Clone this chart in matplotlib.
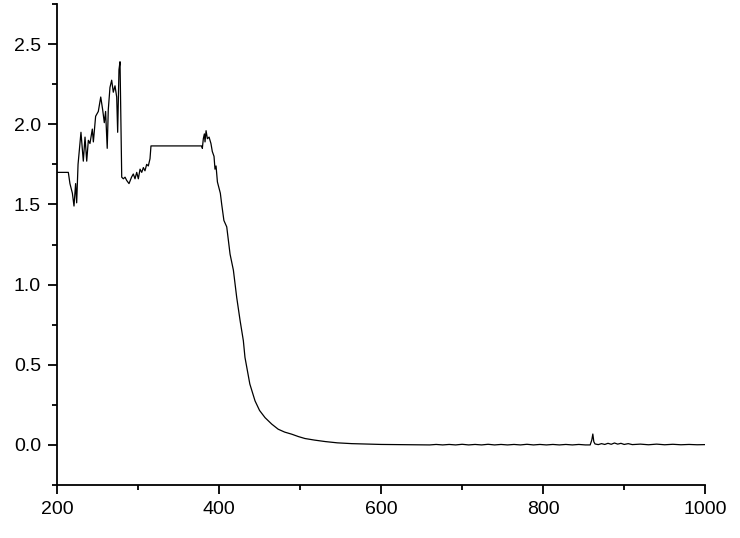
import matplotlib
matplotlib.use("Agg")
import matplotlib.pyplot as plt
from matplotlib.ticker import MultipleLocator, FormatStrFormatter

# wavelength (nm) and absorbance
wavelength = [200, 214, 216, 219, 221, 223, 224.3, 226, 229.6, 232.5, 234.6, 236.7, 238.7, 240.7,
	243.6, 244.9, 247.7, 251, 254, 256.4, 258.4, 260, 262, 263.3, 265.4, 267.5, 269.5, 271.6,
	273.7, 274.9, 276.5, 277.8, 279, 279.9, 281.9, 284, 286, 288.9, 292, 294.2, 296.3, 298.4,
	300.4, 302.5, 304.6, 306.6, 308.6, 310.7, 312.7, 314.8, 316, 378.6, 379.4, 380.6, 381.9,
	382.7, 384, 385.6, 387.7, 390, 391.7, 393.8, 395, 396.3, 398, 400, 401.6, 403.3, 406, 409.5,
	413.6, 417.7, 421.8, 426, 430, 432, 438, 444.4, 450, 456.8, 465, 473, 481, 489.7, 498, 506,
	518, 531, 546, 564, 580, 593, 600, 620, 640, 660,
	668, 676, 684, 692, 700, 708, 716, 724, 732, 740, 748, 756, 764, 772, 780, 788, 796, 804,
	812, 820, 828, 836, 844, 852, 858, 860, 861.3, 862.5, 864, 868, 872, 876, 880, 884, 888,
	892, 896, 900, 905, 910, 920, 930, 940, 950, 960, 970, 980, 990, 1000]
absorbance = [1.70, 1.70, 1.63, 1.57, 1.49, 1.63, 1.51, 1.75, 1.95, 1.77, 1.92, 1.77, 1.90, 1.88,
	1.97, 1.89, 2.05, 2.08, 2.17, 2.09, 2.01, 2.08, 1.85, 2.09, 2.23, 2.275, 2.20, 2.24,
	2.17, 1.95, 2.34, 2.39, 1.96, 1.67, 1.66, 1.67, 1.65, 1.63, 1.67, 1.69, 1.66, 1.70,
	1.66, 1.72, 1.70, 1.73, 1.71, 1.75, 1.74, 1.785, 1.865, 1.865, 1.85, 1.91, 1.94,
	1.89, 1.96, 1.91, 1.92, 1.88, 1.83, 1.80, 1.72, 1.74, 1.64, 1.60, 1.57, 1.50, 1.40, 1.36,
	1.19, 1.09, 0.92, 0.775, 0.65, 0.546, 0.38, 0.275, 0.215, 0.17, 0.13, 0.098, 0.08, 0.067, 0.052, 0.04,
	0.03, 0.021, 0.013, 0.008, 0.006, 0.004, 0.003, 0.002, 0.001, 0.0,
	0.003, 0.0, 0.003, 0.0, 0.004, 0.0, 0.003, 0.0, 0.004, 0.0, 0.003, 0.0, 0.003, 0.0, 0.004, 0.0, 0.003, 0.0,
	0.003, 0.0, 0.003, 0.0, 0.003, 0.0, 0.0, 0.03, 0.068, 0.02, 0.006, 0.002, 0.008, 0.003, 0.010, 0.004, 0.012,
	0.005, 0.010, 0.003, 0.008, 0.002, 0.005, 0.001, 0.005, 0.001, 0.004, 0.001, 0.003, 0.001, 0.002]

xTicks = [200, 400, 600, 800, 1000]
yTicks = [0.0, 0.5, 1.0, 1.5, 2.0, 2.5]


def generateImage(imageName):
	plt.rcParams['font.family'] = ['Liberation Sans', 'DejaVu Sans']
	fig = plt.figure(figsize=(7.4, 5.38), dpi=100)
	ax = fig.add_axes([0.077, 0.0985, 0.876, 0.894])

	ax.plot(wavelength, absorbance, color="black", linewidth=0.9)

	ax.set_xlim(200, 1000)
	ax.set_ylim(-0.25, 2.75)
	ax.set_xticks(xTicks)
	ax.set_yticks(yTicks)
	ax.xaxis.set_minor_locator(MultipleLocator(100))
	ax.yaxis.set_minor_locator(MultipleLocator(0.25))
	ax.yaxis.set_major_formatter(FormatStrFormatter("%.1f"))

	ax.spines["top"].set_visible(False)
	ax.spines["right"].set_visible(False)
	for side in ["left", "bottom"]:
		ax.spines[side].set_linewidth(1.3)

	ax.tick_params(which="major", direction="out", length=6.5, width=1.3, labelsize=14, pad=5)
	ax.tick_params(which="minor", direction="out", length=3.5, width=1.3)

	fig.savefig(imageName, dpi=100)
	return


def main():
	generateImage("out.png")


main()
